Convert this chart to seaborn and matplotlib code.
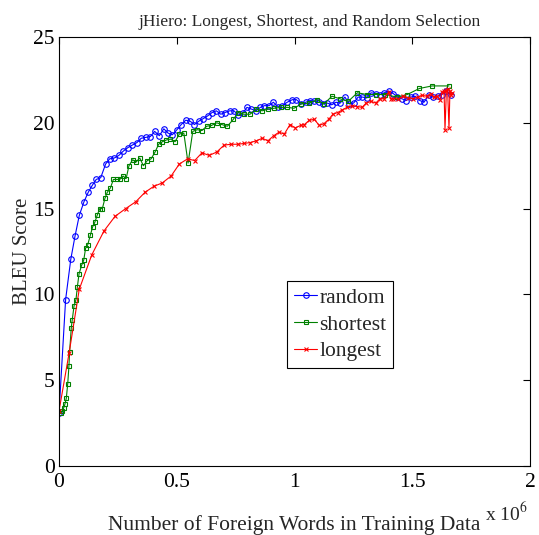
import matplotlib
matplotlib.use("Agg")
import matplotlib.pyplot as plt
import pandas as pd
import seaborn as sns

# ── data (x in millions of foreign words) ──
random_x = [0.0, 0.028, 0.050, 0.068, 0.086, 0.106, 0.124, 0.141, 0.158, 0.177,
            0.198, 0.215, 0.235, 0.254, 0.273, 0.292, 0.311, 0.331, 0.349, 0.368,
            0.388, 0.406, 0.426, 0.445, 0.463, 0.481, 0.501, 0.519, 0.538, 0.556,
            0.575, 0.594, 0.613, 0.631, 0.650, 0.668, 0.687, 0.705, 0.725, 0.743,
            0.761, 0.780, 0.798, 0.817, 0.837, 0.855, 0.872, 0.892, 0.910, 0.929,
            0.947, 0.969, 0.991, 1.008, 1.029, 1.048, 1.066, 1.084, 1.104, 1.122,
            1.139, 1.158, 1.176, 1.194, 1.214, 1.233, 1.251, 1.270, 1.288, 1.307,
            1.325, 1.345, 1.363, 1.381, 1.400, 1.420, 1.437, 1.456, 1.475, 1.493,
            1.512, 1.532, 1.550, 1.570, 1.588, 1.608, 1.626, 1.645, 1.663]
random_y = [3.1, 9.7, 12.05, 13.4, 14.6, 15.4, 15.95, 16.35, 16.7, 16.8,
            17.6, 17.9, 17.95, 18.1, 18.35, 18.55, 18.7, 18.85, 19.1, 19.15,
            19.2, 19.5, 19.25, 19.65, 19.4, 19.3, 19.6, 19.9, 20.15, 20.1,
            19.9, 20.1, 20.25, 20.4, 20.6, 20.7, 20.5, 20.6, 20.7, 20.7,
            20.45, 20.55, 20.9, 20.8, 20.7, 20.9, 21.0, 21.0, 21.2, 20.95,
            21.0, 21.2, 21.35, 21.35, 21.1, 21.2, 21.3, 21.25, 21.2, 21.1,
            21.15, 21.05, 21.2, 21.15, 21.5, 21.1, 21.15, 21.5, 21.5, 21.45,
            21.75, 21.7, 21.65, 21.75, 21.85, 21.7, 21.5, 21.4, 21.3, 21.5,
            21.55, 21.3, 21.2, 21.6, 21.5, 21.55, 21.65, 21.85, 21.65]

shortest_x = [0.008, 0.014, 0.020, 0.025, 0.031, 0.037, 0.042, 0.045, 0.052, 0.056,
              0.064, 0.072, 0.078, 0.085, 0.096, 0.105, 0.113, 0.122, 0.133, 0.143,
              0.152, 0.163, 0.173, 0.184, 0.195, 0.205, 0.218, 0.231, 0.246, 0.258,
              0.272, 0.285, 0.297, 0.313, 0.326, 0.343, 0.358, 0.375, 0.391, 0.408,
              0.423, 0.439, 0.456, 0.473, 0.493, 0.511, 0.530, 0.548, 0.568, 0.587,
              0.607, 0.627, 0.648, 0.670, 0.691, 0.715, 0.740, 0.761, 0.784, 0.811,
              0.838, 0.863, 0.889, 0.914, 0.943, 0.969, 0.998, 1.029, 1.063, 1.096,
              1.125, 1.159, 1.193, 1.228, 1.267, 1.307, 1.346, 1.386, 1.434, 1.479,
              1.530, 1.584, 1.656]
shortest_y = [3.1, 3.2, 3.4, 3.6, 3.95, 4.8, 5.8, 6.65, 8.05, 8.5,
              9.35, 9.7, 10.45, 11.2, 11.7, 12.0, 12.7, 12.9, 13.45, 13.95,
              14.2, 14.65, 15.0, 15.0, 15.6, 15.95, 16.2, 16.7, 16.7, 16.7,
              16.9, 16.75, 17.5, 17.85, 17.7, 17.95, 17.5, 17.8, 17.9, 18.3,
              18.75, 18.9, 19.0, 19.05, 18.9, 19.35, 19.4, 17.65, 19.5, 19.6,
              19.55, 19.8, 19.85, 20.0, 19.9, 19.8, 20.2, 20.6, 20.5, 20.5,
              20.8, 20.7, 20.8, 20.85, 20.9, 20.9, 20.85, 21.1, 21.15, 21.35,
              21.1, 21.55, 21.4, 21.25, 21.75, 21.65, 21.65, 21.65, 21.5, 21.65,
              22.0, 22.15, 22.15]

longest_x = [0.0, 0.043, 0.086, 0.139, 0.191, 0.238, 0.283, 0.326, 0.365, 0.403,
             0.439, 0.476, 0.511, 0.546, 0.576, 0.607, 0.638, 0.670, 0.701, 0.730,
             0.759, 0.787, 0.812, 0.838, 0.863, 0.887, 0.912, 0.934, 0.957, 0.981,
             1.003, 1.026, 1.042, 1.063, 1.084, 1.105, 1.125, 1.145, 1.163, 1.183,
             1.203, 1.223, 1.244, 1.265, 1.287, 1.304, 1.325, 1.345, 1.363, 1.380,
             1.400, 1.408, 1.420, 1.441, 1.462, 1.483, 1.503, 1.523, 1.543, 1.561,
             1.578, 1.591, 1.604, 1.618, 1.628, 1.635, 1.639, 1.645, 1.650, 1.656,
             1.660, 1.666, 1.669]
longest_y = [3.2, 6.6, 10.3, 12.3, 13.7, 14.55, 15.0, 15.4, 15.95, 16.3,
             16.5, 16.9, 17.6, 17.9, 17.8, 18.25, 18.1, 18.3, 18.7, 18.75,
             18.75, 18.8, 18.85, 18.95, 19.1, 18.95, 19.25, 19.45, 19.35, 19.9,
             19.7, 19.85, 19.9, 20.15, 20.2, 19.85, 19.95, 20.2, 20.5, 20.6,
             20.75, 20.9, 21.0, 20.95, 20.9, 21.15, 21.25, 21.15, 21.4, 21.4,
             21.8, 21.4, 21.4, 21.4, 21.55, 21.45, 21.4, 21.5, 21.6, 21.55,
             21.7, 21.5, 21.55, 21.35, 21.8, 21.85, 19.6, 21.9, 21.95, 19.7,
             21.85, 21.6, 21.75]

x_ticks = [0, 0.5, 1, 1.5, 2]
x_tick_labels = ["0", "0.5", "1", "1.5", "2"]
y_ticks = [0, 5, 10, 15, 20, 25]

sns.set_style("white")
plt.rcParams["font.family"] = ["Liberation Serif", "DejaVu Serif"]
plt.rcParams["mathtext.fontset"] = "stix"

fig = plt.figure(figsize=(5.39, 5.35), dpi=100)
ax = fig.add_axes([0.1095, 0.129, 0.8738, 0.8018])

series = [
    ("random",   random_x,   random_y,   "#0000ff", "o", 4.0),
    ("shortest", shortest_x, shortest_y, "#008000", "s", 3.4),
    ("longest",  longest_x,  longest_y,  "#ff0000", "x", 3.4),
]
for name, xs, ys, col, mk, ms in series:
    df = pd.DataFrame({"x": xs, "y": ys})
    sns.lineplot(data=df, x="x", y="y", ax=ax, color=col, lw=0.8,
                 marker=mk, markersize=ms, mfc="none", mec=col, mew=0.8,
                 sort=False, estimator=None, label=name)

ax.set_xlim(0, 2)
ax.set_ylim(0, 25)
ax.set_xticks(x_ticks)
ax.set_xticklabels(x_tick_labels)
ax.set_yticks(y_ticks)
ax.tick_params(direction="in", top=True, right=True, length=5, width=0.8,
               labelsize=15.5, colors="black")
ax.tick_params(axis="x", pad=5)
ax.tick_params(axis="y", pad=3)
for sp in ax.spines.values():
    sp.set_visible(True)
    sp.set_color("black")
    sp.set_linewidth(0.8)

ax.set_title("jHiero: Longest, Shortest, and Random Selection", fontsize=12.5,
             pad=8, x=0.533)
ax.set_xlabel("Number of Foreign Words in Training Data", fontsize=15.5, labelpad=17)
ax.set_ylabel("BLEU Score", fontsize=15, labelpad=1)
ax.text(0.995, -0.11, r"x 10$^{6}$", transform=ax.transAxes, ha="right",
        va="center", fontsize=14)

leg = ax.legend(loc="lower left", bbox_to_anchor=(0.484, 0.228), numpoints=1,
                fontsize=15.5, frameon=True, fancybox=False, framealpha=1,
                edgecolor="black", handlelength=1.07, handletextpad=0.1,
                borderpad=0.33, labelspacing=0.3, borderaxespad=0)
leg.get_frame().set_linewidth(0.8)

fig.savefig("out.png", dpi=100)
